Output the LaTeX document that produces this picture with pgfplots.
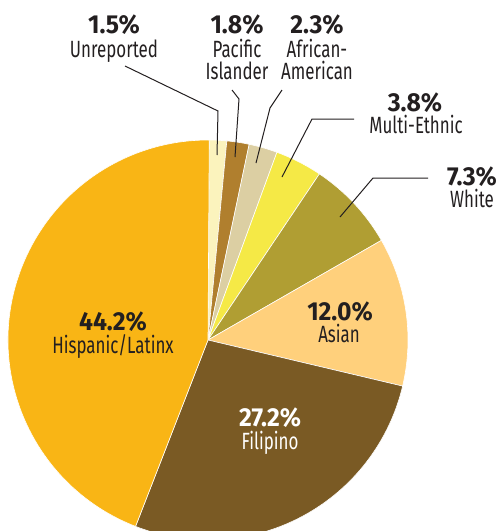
\documentclass[border=0pt]{standalone}
\usepackage{fontspec}
\setmainfont{Fira Sans}
\newfontfamily\labfont{Fira Sans}[FakeStretch=0.72]
\newfontfamily\pctfont{Fira Sans}[FakeStretch=0.95]
\usepackage{pgfplots}
\pgfplotsset{compat=1.18}

\definecolor{txt}{HTML}{231F20}
\definecolor{cUnrep}{HTML}{FBF3BD}
\definecolor{cPac}{HTML}{B07F2E}
\definecolor{cAfr}{HTML}{DCCFA3}
\definecolor{cMulti}{HTML}{F5E946}
\definecolor{cWhite}{HTML}{B09E33}
\definecolor{cAsian}{HTML}{FFD07C}
\definecolor{cFil}{HTML}{7A5A24}
\definecolor{cHisp}{HTML}{F9B515}

% share (%) / colour, clockwise from 12 o'clock
\def\piedata{1.5/cUnrep, 1.8/cPac, 2.3/cAfr, 3.8/cMulti, 7.3/cWhite, 12.0/cAsian, 27.2/cFil, 44.2/cHisp}

\tikzset{
  pct/.style={anchor=base, inner sep=0pt, text=txt, font=\pctfont\bfseries\fontsize{26}{30}\selectfont},
  lab/.style={anchor=base, inner sep=0pt, text=txt, font=\labfont\fontsize{23.5}{28}\selectfont},
  lead/.style={txt, line width=1pt},
}

\begin{document}
\begin{tikzpicture}
\begin{axis}[
    x=1pt, y=1pt, scale only axis,
    xmin=0, xmax=500, ymin=0, ymax=531,
    y dir=reverse, enlargelimits=false,
    hide axis, clip=true,
  ]
  \xdef\cum{0}
  \foreach \v/\c in \piedata {
    \pgfmathsetmacro\sa{90-3.6*\cum}
    \pgfmathsetmacro\sb{90-3.6*(\cum+\v)}
    \edef\temp{\noexpand\fill[\c, draw=white, line width=0.6pt, line join=round]
      (axis cs:208,340) -- ++(\sa:200pt) arc[start angle=\sa, end angle=\sb, radius=200pt] -- cycle;}
    \temp
    \pgfmathparse{\cum+\v}
    \xdef\cum{\pgfmathresult}
  }

  % leader lines
  \draw[lead] (axis cs:125,66) -- (axis cs:218,111) -- (axis cs:217,155);
  \draw[lead] (axis cs:232,90) -- (axis cs:239,99) -- (axis cs:235,157);
  \draw[lead] (axis cs:282,90) -- (axis cs:270,108) -- (axis cs:256,163);
  \draw[lead] (axis cs:354,119) -- (axis cs:312,119) -- (axis cs:282,177);
  \draw[lead] (axis cs:428,178) -- (axis cs:373,178) -- (axis cs:340,217);

  % outside labels
  \node[pct] at (axis cs:114,33) {1.5\%};
  \node[lab] at (axis cs:114,57) {Unreported};
  \node[pct] at (axis cs:237,33) {1.8\%};
  \node[lab] at (axis cs:237,57) {Pacific};
  \node[lab] at (axis cs:237,79) {Islander};
  \node[pct] at (axis cs:317,33) {2.3\%};
  \node[lab] at (axis cs:317,57) {African-};
  \node[lab] at (axis cs:317,79) {American};
  \node[pct] at (axis cs:415,111) {3.8\%};
  \node[lab] at (axis cs:416,133) {Multi-Ethnic};
  \node[pct] at (axis cs:472,185) {7.3\%};
  \node[lab] at (axis cs:472,207) {White};

  % inside labels
  \node[pct] at (axis cs:340,320) {12.0\%};
  \node[lab] at (axis cs:339,342) {Asian};
  \node[pct, text=white] at (axis cs:270,426) {27.2\%};
  \node[lab, text=white] at (axis cs:270,449) {Filipino};
  \node[pct] at (axis cs:113,330) {44.2\%};
  \node[lab] at (axis cs:113,353) {Hispanic/Latinx};
\end{axis}
\pgfresetboundingbox
\path (0,0) rectangle (500pt,531pt);
\end{tikzpicture}
\end{document}
